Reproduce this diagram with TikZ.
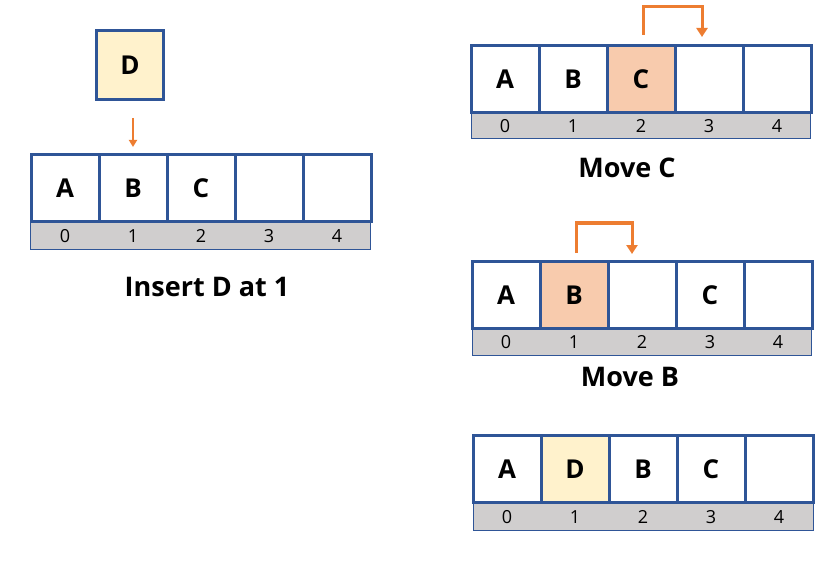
\documentclass[tikz,border=0pt]{standalone}
\usepackage{fontspec}
\setmainfont{Open Sans}
\usepackage{xcolor}
\usepackage{tikz}
\usetikzlibrary{arrows.meta,positioning}
\definecolor{cellBlue}{HTML}{2F5597}
\definecolor{idxGray}{HTML}{D0CECE}
\definecolor{moveOrange}{HTML}{ED7D31}
\definecolor{newYellow}{HTML}{FFF2CC}
\definecolor{movePeach}{HTML}{F8CBAD}

\tikzset{
  cell/.style={draw=cellBlue, line width=3pt, minimum width=68pt, minimum height=67pt,
               inner sep=0pt, font=\bfseries\fontsize{26}{26}\selectfont},
  idxbar/.style={fill=idxGray, draw=cellBlue, line width=1pt},
  idxnum/.style={font=\fontsize{18}{18}\selectfont, inner sep=0pt},
  caption/.style={font=\bfseries\fontsize{27}{27}\selectfont, inner sep=0pt},
  movearrow/.style={draw=moveOrange, line width=3pt,
                    -{Triangle[length=9pt,width=11pt]}},
  insarrow/.style={draw=moveOrange, line width=2pt,
                   -{Triangle[length=7pt,width=8pt]}}
}

\begin{document}
\begin{tikzpicture}[x=1pt, y=-1pt]
    \useasboundingbox (0,0) rectangle (836,575);

    % === Insert D at 1 (left) ===
    \draw[idxbar] (30,222) rectangle (370,249);
    \foreach \i/\t/\c in {0/A/white, 1/B/white, 2/C/white, 3//white, 4//white} {
      \node[cell, fill=\c] (p1c\i) at (65+68*\i,188) {\t};
      \node[idxnum] (p1i\i) at (65+68*\i,236) {\i};
    }
    \node[cell, fill=newYellow, minimum width=67pt, minimum height=69pt] (dnew) at (130,65) {D};
    \draw[insarrow] ([xshift=3pt,yshift=-17pt]dnew.south) -- ([yshift=6pt]p1c1.north);
    \node[caption] (cap1) at (207,287) {Insert D at 1};

    % === Move C (top right) ===
    \draw[idxbar] (471,112) rectangle (810,139);
    \foreach \i/\t/\c in {0/A/white, 1/B/white, 2/C/movePeach, 3//white, 4//white} {
      \node[cell, fill=\c] (p2c\i) at (505+68*\i,79) {\t};
      \node[idxnum] (p2i\i) at (505+68*\i,126) {\i};
    }
    \draw[movearrow] ([xshift=2pt,yshift=9pt]p2c2.north) -- ++(0,-28)
      -| ([xshift=-7pt,yshift=7pt]p2c3.north);
    \node[caption] (cap2) at (627,168) {Move C};

    % === Move B ===
    \draw[idxbar] (472,328) rectangle (811,355);
    \foreach \i/\t/\c in {0/A/white, 1/B/movePeach, 2//white, 3/C/white, 4//white} {
      \node[cell, fill=\c] (p3c\i) at (506+68*\i,295) {\t};
      \node[idxnum] (p3i\i) at (506+68*\i,342) {\i};
    }
    \draw[movearrow] ([xshift=2pt,yshift=7pt]p3c1.north) -- ++(0,-30)
      -| ([xshift=-10pt,yshift=6pt]p3c2.north);
    \node[caption] (cap3) at (630,377) {Move B};

    % === Result (bottom right) ===
    \draw[idxbar] (473,503) rectangle (813,530);
    \foreach \i/\t/\c in {0/A/white, 1/D/newYellow, 2/B/white, 3/C/white, 4//white} {
      \node[cell, fill=\c] (p4c\i) at (507+68*\i,469) {\t};
      \node[idxnum] (p4i\i) at (507+68*\i,517) {\i};
    }
\end{tikzpicture}
\end{document}
